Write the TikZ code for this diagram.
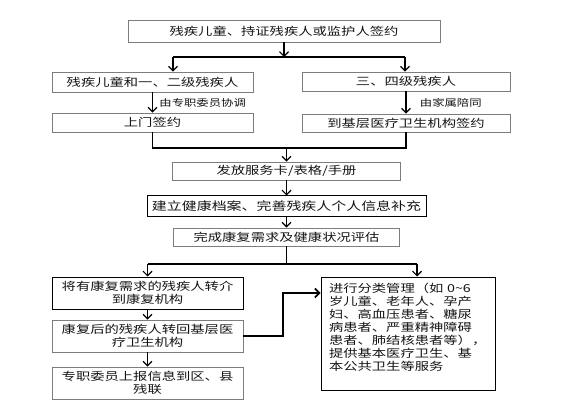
\documentclass[tikz,border=0pt]{standalone}
\usepackage{fontspec}
\setmainfont{Noto Sans CJK SC}[FakeStretch=1.3]
\usepackage{tikz}
\usetikzlibrary{calc, positioning, arrows.meta}
\usepackage{xcolor}
\definecolor{boxline}{RGB}{125, 125, 125}
\definecolor{ink}{RGB}{20, 20, 20}

\begin{document}
\begin{tikzpicture}[x=1pt, y=-1pt, >={Straight Barb[length=4.5pt, width=9pt]},
  font=\fontsize{11}{13}\selectfont, text=ink,
  box/.style={draw=boxline, line width=0.7pt, inner sep=0pt, align=center},
  boxdark/.style={draw=black, line width=1pt, inner sep=0pt, align=center},
  link/.style={line width=1.1pt},
  flow/.style={->, line width=1.2pt},
  note/.style={font=\fontsize{9.5}{11}\selectfont}]
  \useasboundingbox (0,0) rectangle (561,411);

  % signing
  \node[box, minimum width=312, minimum height=22] (sign) at (284,31) {残疾儿童、持证残疾人或监护人签约};
  \node[box, minimum width=201, minimum height=20] (low) at (152.5,82) {残疾儿童和一、二级残疾人};
  \node[box, minimum width=208, minimum height=19] (high) at (406,81.5) {三、四级残疾人};
  \node[box, minimum width=201, minimum height=19] (home) at (152.5,122.5) {上门签约};
  \node[box, minimum width=208, minimum height=18] (clinic) at (406,123) {到基层医疗卫生机构签约};
  \coordinate (lowtop) at (173,57);
  \coordinate (hightop) at (405,57);
  \draw[flow] (sign) -- (sign.south |- lowtop);
  \draw[link] (lowtop) -- (hightop);
  \draw[flow] (lowtop) -- (lowtop |- low.north);
  \draw[flow] (hightop) -- (hightop |- high.north);
  \draw[flow] (low) -- node[right=3pt, note]{由专职委员协调} (home);
  \draw[flow] (high) -- node[right=10pt, note]{由家属陪同} (clinic);

  % services
  \node[box, minimum width=228, minimum height=18] (card) at (286.5,171) {发放服务卡/表格/手册};
  \node[boxdark, minimum width=279, minimum height=21, font=\fontsize{11.5}{13}\selectfont] (record) at (286.5,206.5) {建立健康档案、完善残疾人个人信息补充};
  \node[box, minimum width=226, minimum height=18] (assess) at (286.5,237) {完成康复需求及健康状况评估};
  \coordinate (join1) at (286.5,148);
  \draw[link] (home.south) |- (join1) -| (clinic.south);
  \draw[flow] (join1) -- (card);
  \draw[flow] (card) -- (record);
  \draw[flow] (record) -- (assess);

  % rehab and management
  \node[boxdark, minimum width=191, minimum height=32] (refer) at (147.5,293) {将有康复需求的残疾人转介\\到康复机构};
  \node[box, minimum width=191, minimum height=32] (back) at (147.5,336) {康复后的残疾人转回基层医\\疗卫生机构};
  \node[box, minimum width=191, minimum height=32] (report) at (147.5,383) {专职委员上报信息到区、县\\残联};
  \node[boxdark, minimum width=174, minimum height=113, text width=158, align=left] (manage) at (408,333.5)
    {进行分类管理（如 0\textasciitilde6\\岁儿童、老年人、孕产\\妇、高血压患者、糖尿\\病患者、严重精神障碍\\\mbox{患者、肺结核患者等），}\\提供基本医疗卫生、基\\本公共卫生等服务\\ \mbox{}};
  \coordinate (join2) at (286.5,264);
  \coordinate (turn) at (417,264);
  \coordinate (side) at (283,293);
  \draw[link] (assess) -- (join2);
  \draw[link] (refer.north |- join2) -- (turn);
  \draw[flow] (refer.north |- join2) -- (refer);
  \draw[flow] (turn) -- (turn |- manage.north);
  \draw[flow] (refer) -- (back);
  \draw[flow] (back) -- (report);
  \draw[flow, line width=1.6pt] (back.east) -| (side) -- (manage.west |- side);
\end{tikzpicture}
\end{document}
